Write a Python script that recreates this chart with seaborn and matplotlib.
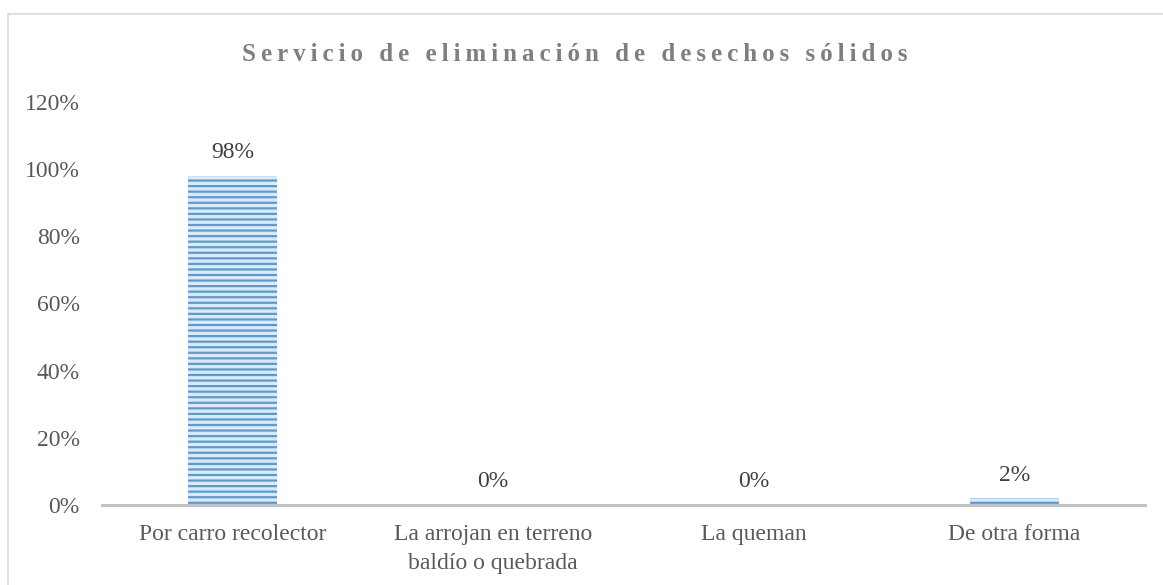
#!/usr/bin/env python3
# Bar chart: servicio de eliminacion de desechos solidos

import pandas as pd
import seaborn as sns
import matplotlib
matplotlib.use("Agg")
import matplotlib.pyplot as plt
from matplotlib.patches import Rectangle

#---------------------------------------------------------
# DATA
#---------------------------------------------------------
categories = ["Por carro recolector",
              "La arrojan en terreno\nbaldío o quebrada",
              "La queman",
              "De otra forma"]
values = [0.98, 0.0, 0.0, 0.02]
value_labels = ["98%", "0%", "0%", "2%"]
y_ticks = [0.0, 0.2, 0.4, 0.6, 0.8, 1.0, 1.2]
y_tick_labels = ["0%", "20%", "40%", "60%", "80%", "100%", "120%"]
title = "Servicio de eliminación de desechos sólidos"

#---------------------------------------------------------
# PLOT
#---------------------------------------------------------
sns.set_style("white")
plt.rcParams["font.family"] = ["Liberation Serif", "DejaVu Serif"]
plt.rcParams["hatch.linewidth"] = 1.6
plt.rcParams["hatch.color"] = "#5B9BD5"

df = pd.DataFrame({"cat": categories, "val": values})

fig = plt.figure(figsize=(11.63, 5.85), dpi=100)
ax = fig.add_axes([0.0877, 0.1368, 0.8968, 0.6888])

sns.barplot(data=df, x="cat", y="val", color="#DCE9F6", width=0.34,
            saturation=1, ax=ax)
for p in ax.patches:
    p.set_hatch("---")
    p.set_edgecolor("#5B9BD5")
    p.set_linewidth(0)

for i, (v, lab) in enumerate(zip(values, value_labels)):
    ax.annotate(lab, (i, v), xytext=(0, 9), textcoords="offset points",
                ha="center", va="bottom", fontsize=17, color="#404040")

ax.set_ylim(0, 1.2)
ax.set_xlim(-0.5, 3.5)
ax.set_yticks(y_ticks)
ax.set_yticklabels(y_tick_labels, fontsize=17, color="#595959")
ax.tick_params(axis="x", labelsize=17, labelcolor="#595959", length=0, pad=14)
ax.tick_params(axis="y", length=0, pad=16)
for t in ax.get_xticklabels():
    t.set_linespacing(1.45)
ax.set_xlabel("")
ax.set_ylabel("")
for s in ["top", "right", "left"]:
    ax.spines[s].set_visible(False)
ax.spines["bottom"].set_color("#BFBFBF")
ax.spines["bottom"].set_linewidth(2)

# spaced-out title, like the character spacing in the original
fig.text(0.494, 0.906, "\u2009".join(title), ha="center", va="center",
         fontsize=18, fontweight="bold", color="#7F7F7F")

fig.patches.append(Rectangle((0.007, -0.1), 1.1, 1.076, transform=fig.transFigure,
                             fill=False, edgecolor="#D9D9D9", linewidth=1.2))

fig.savefig("out.png", dpi=100)
